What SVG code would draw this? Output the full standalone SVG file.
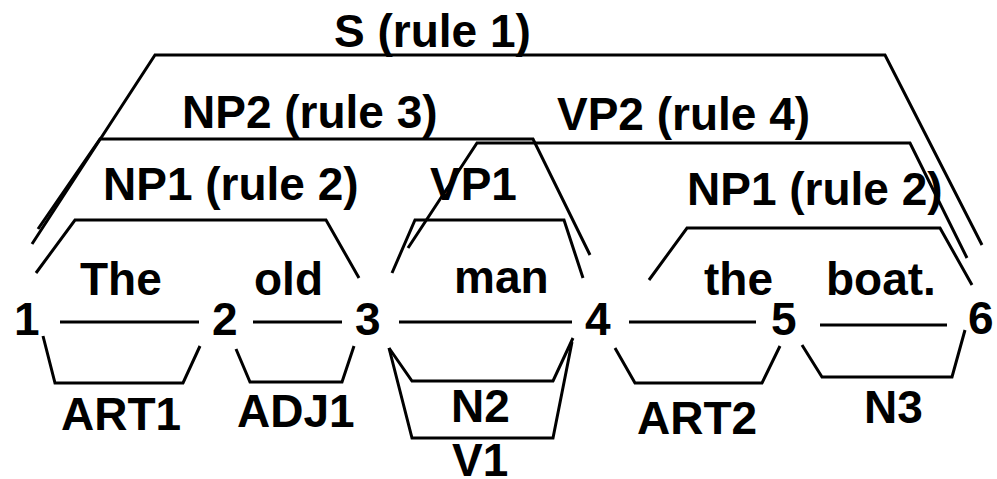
<svg xmlns="http://www.w3.org/2000/svg" width="997" height="479" viewBox="0 0 997 479">
<style>
text{font-family:"Liberation Sans",Arial,sans-serif;font-weight:bold;font-size:46px;fill:#000}
.l{fill:none;stroke:#000;stroke-width:3;stroke-linejoin:miter;stroke-linecap:butt}
</style>
<rect width="997" height="479" fill="#fff"/>
<g id="nodes">
<g id="n1"><text x="14" y="335">1</text></g>
<g id="n2"><text x="212" y="335">2</text></g>
<g id="n3"><text x="355" y="335">3</text></g>
<g id="n4"><text x="585" y="335">4</text></g>
<g id="n5"><text x="771" y="335">5</text></g>
<g id="n6"><text x="968" y="334">6</text></g>
</g>
<g id="words">
<g id="w-the1"><text x="80" y="295">The</text></g>
<g id="w-old"><text x="254" y="295">old</text></g>
<g id="w-man"><text x="454" y="293">man</text></g>
<g id="w-the2"><text x="704" y="295">the</text></g>
<g id="w-boat"><text x="826" y="295">boat.</text></g>
</g>
<g id="connectors">
<line class="l" x1="60" y1="322" x2="199" y2="322"/>
<line class="l" x1="253" y1="322" x2="342" y2="322"/>
<line class="l" x1="399" y1="322" x2="572" y2="322"/>
<line class="l" x1="629" y1="322" x2="756" y2="322"/>
<line class="l" x1="820" y1="325" x2="947" y2="325"/>
</g>
<g id="ART1"><polyline class="l" points="43,336 55,383 183,383 200,346"/><text x="61" y="430">ART1</text></g>
<g id="ADJ1"><polyline class="l" points="236,349 250,382 342,382 354,346"/><text x="237" y="427">ADJ1</text></g>
<g id="N2"><polyline class="l" points="389,348 412,381 553,381 573,338"/><text x="451" y="422">N2</text></g>
<g id="V1"><polyline class="l" points="389,348 412,438 553,438 572,342"/><text x="452" y="476">V1</text></g>
<g id="ART2"><polyline class="l" points="615,348 635,383 762,383 780,346"/><text x="637" y="434">ART2</text></g>
<g id="N3"><polyline class="l" points="802,345 822,377 952,377 965,330"/><text x="864" y="423">N3</text></g>
<g id="NP1a"><polyline class="l" points="36,273 75,220 326,220 359,278"/><text x="103" y="200">NP1 (rule 2)</text></g>
<g id="VP1"><polyline class="l" points="392,273 415,220 564,220 583,278"/><text x="430" y="200">VP1</text></g>
<g id="NP1b"><polyline class="l" points="649,280 687,228 940,228 972,285"/><text x="687" y="205">NP1 (rule 2)</text></g>
<g id="NP2"><polyline class="l" points="38,229 100,139 533,139 590,255"/><text x="182" y="128">NP2 (rule 3)</text></g>
<g id="VP2"><polyline class="l" points="408,248 477,143 910,143 967,258"/><text x="557" y="130">VP2 (rule 4)</text></g>
<g id="S"><polyline class="l" points="32,244 155,55 885,55 982,245"/><text x="334" y="47">S (rule 1)</text></g>
</svg>
